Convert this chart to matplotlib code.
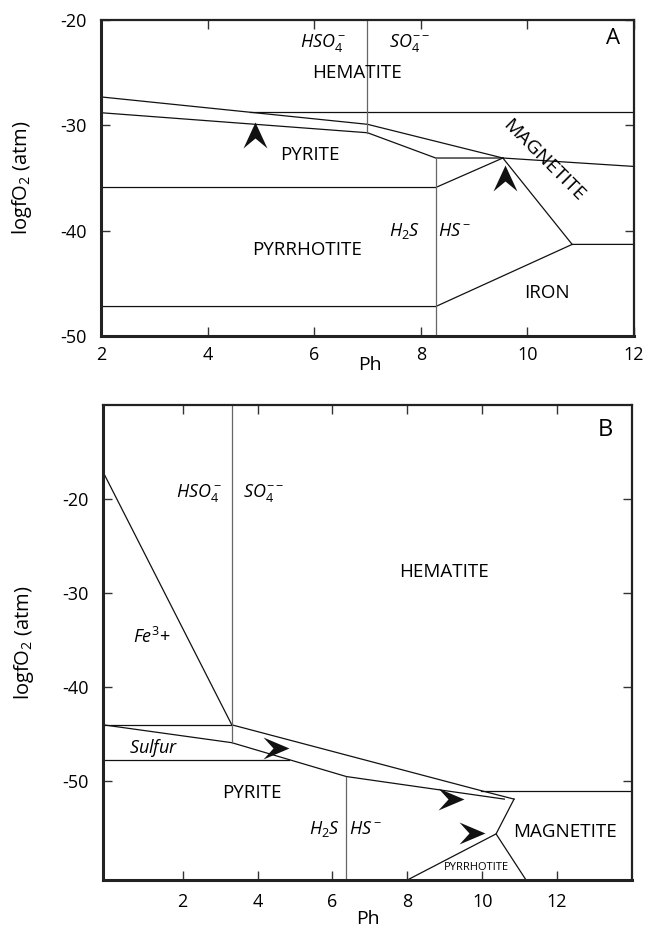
import matplotlib
matplotlib.use("Agg")
import matplotlib.pyplot as plt
from matplotlib.path import Path

plt.rcParams['font.family'] = ['Open Sans', 'DejaVu Sans']
plt.rcParams['mathtext.fontset'] = 'custom'
plt.rcParams['mathtext.rm'] = 'Open Sans'
plt.rcParams['mathtext.it'] = 'Open Sans:italic'

# ---- panel A boundaries (pH, logfO2) ----
a_upper_x = [2, 7.0, 9.54]
a_upper_y = [-27.3, -29.9, -33.1]
a_lower_x = [2, 7.0, 8.28, 9.54]
a_lower_y = [-28.8, -30.7, -33.1, -33.1]
a_hem_x = [4.8, 12]
a_hem_y = [-28.7, -28.7]
a_mag_x = [9.54, 12]
a_mag_y = [-33.1, -33.9]
a_pyrpo_x = [2, 8.28, 9.54]
a_pyrpo_y = [-35.9, -35.9, -33.1]
a_pofe_x = [2, 8.28, 10.84, 12]
a_pofe_y = [-47.2, -47.2, -41.3, -41.3]
a_magfe_x = [9.54, 10.84]
a_magfe_y = [-33.1, -41.3]
a_sulf_x = [7.0, 7.0]
a_sulf_y = [-20, -30.7]
a_h2s_x = [8.28, 8.28]
a_h2s_y = [-33.1, -50]
a_arrow_x = [4.89, 9.58]
a_arrow_y = [-30.9, -35.0]

# ---- panel B boundaries ----
b_fe3_x = [-0.13, 3.31]
b_fe3_y = [-17.1, -44.0]
b_top_x = [-0.13, 3.31]
b_top_y = [-44.0, -44.0]
b_upper_x = [3.31, 9.97, 10.85]
b_upper_y = [-44.0, -51.0, -51.9]
b_lower_x = [-0.13, 3.31, 6.37, 10.59]
b_lower_y = [-44.0, -45.9, -49.5, -51.9]
b_sulfur_x = [-0.13, 4.85]
b_sulfur_y = [-47.7, -47.7]
b_hem_x = [9.97, 14]
b_hem_y = [-51.0, -51.0]
b_mag_x = [10.85, 10.37, 11.17]
b_mag_y = [-51.9, -55.6, -60.5]
b_po_x = [8.0, 10.37]
b_po_y = [-60.5, -55.6]
b_sulf_x = [3.31, 3.31]
b_sulf_y = [-10, -45.9]
b_h2s_x = [6.37, 6.37]
b_h2s_y = [-49.5, -60.5]
b_arrow_x = [4.48, 9.17, 9.73]
b_arrow_y = [-46.5, -51.9, -55.5]

x_ticks = [2, 4, 6, 8, 10, 12]
y_ticks = [-20, -30, -40, -50]
y_labels = ['-20', '-30', '-40', '-50']

up_arrow = Path([(0, 13), (12, -13), (0, -3), (-12, -13), (0, 13)],
                [Path.MOVETO, Path.LINETO, Path.LINETO, Path.LINETO, Path.CLOSEPOLY])
right_arrow = Path([(13, 0), (-13, 11), (-3, 0), (-13, -11), (13, 0)],
                   [Path.MOVETO, Path.LINETO, Path.LINETO, Path.LINETO, Path.CLOSEPOLY])

fig = plt.figure(figsize=(6.46, 9.27), dpi=100)
ax_a = fig.add_axes([0.1563, 0.6375, 0.8251, 0.3409])
ax_b = fig.add_axes([0.1594, 0.0507, 0.8189, 0.5124])

blk = dict(color='#111111', lw=0.9)
gry = dict(color='#666666', lw=0.9)


def style(ax, xpad):
    for side in ['top', 'right']:
        ax.spines[side].set_linewidth(1.6)
        ax.spines[side].set_color('#222222')
    for side in ['left', 'bottom']:
        ax.spines[side].set_linewidth(2.2)
        ax.spines[side].set_color('#222222')
    ax.set_xticks(x_ticks)
    ax.set_yticks(y_ticks)
    ax.set_yticklabels(y_labels)
    ax.tick_params(direction='in', length=6.5, width=1.0, color='#333333',
                   top=True, right=True, labelsize=13)
    ax.tick_params(axis='y', pad=10)
    ax.tick_params(axis='x', pad=xpad)
    ax.set_ylabel(r'logfO$_\mathregular{2}$ (atm)', fontsize=14.5)
    ax.set_xlabel('Ph', fontsize=14, va='center')


# ---- panel A ----
for xs, ys in [(a_upper_x, a_upper_y), (a_lower_x, a_lower_y), (a_hem_x, a_hem_y),
               (a_mag_x, a_mag_y), (a_pyrpo_x, a_pyrpo_y), (a_pofe_x, a_pofe_y),
               (a_magfe_x, a_magfe_y)]:
    ax_a.plot(xs, ys, **blk)
for xs, ys in [(a_sulf_x, a_sulf_y), (a_h2s_x, a_h2s_y)]:
    ax_a.plot(xs, ys, **gry)
ax_a.plot(a_arrow_x, a_arrow_y, ls='none', marker=up_arrow, ms=18.7,
          color='#111111', mec='none')
ax_a.set_xlim(2, 12)
ax_a.set_ylim(-50, -20)
style(ax_a, 7)
ax_a.xaxis.set_label_coords(0.504, -0.092)
ax_a.yaxis.set_label_coords(-0.125, 0.5)

ax_a.text(6.17, -22.2, r'$HSO_4^-$', fontsize=13, ha='center', va='center')
ax_a.text(7.8, -22.2, r'$SO_4^{--}$', fontsize=13, ha='center', va='center')
ax_a.text(6.8, -25.0, 'HEMATITE', fontsize=13.5, ha='center', va='center')
ax_a.text(5.92, -32.8, 'PYRITE', fontsize=13.5, ha='center', va='center')
ax_a.text(5.86, -41.8, 'PYRRHOTITE', fontsize=13.5, ha='center', va='center')
ax_a.text(7.7, -40.0, r'$H_2S$', fontsize=13, ha='center', va='center')
ax_a.text(8.64, -40.0, r'$HS^-$', fontsize=13, ha='center', va='center')
ax_a.text(10.37, -45.9, 'IRON', fontsize=13.5, ha='center', va='center')
ax_a.text(10.3, -33.3, 'MAGNETITE', fontsize=14, ha='center', va='center',
          rotation=-45, rotation_mode='anchor')
ax_a.text(11.6, -21.8, 'A', fontsize=16, ha='center', va='center')

# ---- panel B ----
for xs, ys in [(b_fe3_x, b_fe3_y), (b_top_x, b_top_y), (b_upper_x, b_upper_y),
               (b_lower_x, b_lower_y), (b_sulfur_x, b_sulfur_y), (b_hem_x, b_hem_y),
               (b_mag_x, b_mag_y), (b_po_x, b_po_y)]:
    ax_b.plot(xs, ys, **blk)
for xs, ys in [(b_sulf_x, b_sulf_y), (b_h2s_x, b_h2s_y)]:
    ax_b.plot(xs, ys, **gry)
ax_b.plot(b_arrow_x, b_arrow_y, ls='none', marker=right_arrow, ms=18.7,
          color='#111111', mec='none')
ax_b.set_xlim(-0.13, 14)
ax_b.set_ylim(-60.5, -10)
style(ax_b, 9)
ax_b.xaxis.set_label_coords(0.50, -0.082)
ax_b.yaxis.set_label_coords(-0.127, 0.5)

ax_b.text(2.43, -19.4, r'$HSO_4^-$', fontsize=13, ha='center', va='center')
ax_b.text(4.16, -19.4, r'$SO_4^{--}$', fontsize=13, ha='center', va='center')
ax_b.text(1.17, -34.7, r'$Fe^3$+', fontsize=13, ha='center', va='center')
ax_b.text(1.23, -46.5, r'$Sulfur$', fontsize=13, ha='center', va='center')
ax_b.text(3.85, -51.2, 'PYRITE', fontsize=13.5, ha='center', va='center')
ax_b.text(5.79, -55.1, r'$H_2S$', fontsize=13, ha='center', va='center')
ax_b.text(6.88, -55.1, r'$HS^-$', fontsize=13, ha='center', va='center')
ax_b.text(8.99, -27.8, 'HEMATITE', fontsize=13.5, ha='center', va='center')
ax_b.text(12.2, -55.4, 'MAGNETITE', fontsize=13.5, ha='center', va='center')
ax_b.text(9.85, -59.2, 'PYRRHOTITE', fontsize=8, ha='center', va='center')
ax_b.text(13.3, -12.7, 'B', fontsize=17, ha='center', va='center')

fig.savefig('out.png', dpi=100)
